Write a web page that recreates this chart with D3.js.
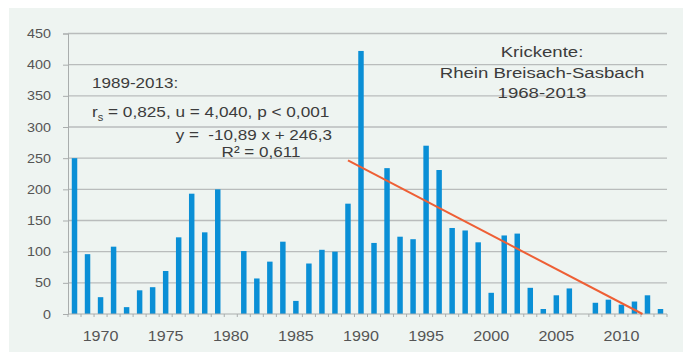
<!DOCTYPE html>
<html><head><meta charset="utf-8">
<script src="https://cdn.jsdelivr.net/npm/d3@7"></script>
<style>
html,body{margin:0;padding:0;background:#fff;}
text{font-family:"Liberation Sans",Arial,sans-serif;white-space:pre;}
</style></head>
<body>
<svg id="c" width="688" height="353"></svg>
<script>
const years = d3.range(1968, 2014);
const values = [250,96,27,108,11,38,43,69,123,193,131,200,0,101,57,84,116,21,81,103,100,177,422,114,234,124,120,270,231,138,134,115,34,126,129,42,8,30,41,0,18,23,15,20,30,8];
const yTicks = [0,50,100,150,200,250,300,350,400,450];
const xTickLabels = [1970,1975,1980,1985,1990,1995,2000,2005,2010];
const trend = {slope:-10.89, intercept:246.3, startYear:1989};
const titleLines = ["Krickente:", "Rhein Breisach-Sasbach", "1968-2013"];

const svg = d3.select("#c");
const SX = 1.15;
svg.append("rect").attr("x",9).attr("y",8).attr("width",674).attr("height",344).attr("fill","#eef4f1");

const x = d3.scaleBand().domain(years).range([68,667]).paddingInner(0.58).paddingOuter(0.29);
const y = d3.scaleLinear().domain([0,450]).range([314,33.5]);

// gridlines
svg.append("g").selectAll("line").data(yTicks.filter(d=>d>0)).join("line")
  .attr("x1",68).attr("x2",667).attr("y1",d=>y(d)).attr("y2",d=>y(d))
  .attr("stroke","#b9bcbc").attr("stroke-width",1.3);

// y axis
const yAxis = svg.append("g").attr("transform","translate(68,0)")
  .call(d3.axisLeft(y).tickValues(yTicks).tickSize(5).tickPadding(0).tickFormat(()=>""));
yAxis.select(".domain").attr("stroke","#a9adad");
yAxis.selectAll(".tick line").attr("stroke","#a9adad");
svg.append("g").selectAll("text").data(yTicks).join("text")
  .attr("transform",d=>`translate(51,${y(d)+4.5}) scale(${SX},1)`)
  .attr("text-anchor","end").attr("font-size",12.5).attr("fill","#555").text(d=>d);

// bars
svg.append("g").selectAll("rect").data(years.map((yr,i)=>({yr,v:values[i]}))).join("rect")
  .attr("x",d=>x(d.yr)).attr("width",x.bandwidth())
  .attr("y",d=>y(d.v)).attr("height",d=>y(0)-y(d.v))
  .attr("fill","#0a8fd6");

// x axis
const step = x.step();
const bounds = years.map(yr=>x(yr)-x.paddingInner()*step/2);
bounds.push(667);
svg.append("line").attr("x1",68).attr("x2",667).attr("y1",y(0)).attr("y2",y(0)).attr("stroke","#a9adad").attr("stroke-width",1.2);
svg.append("g").selectAll("line").data(bounds).join("line")
  .attr("x1",d=>d).attr("x2",d=>d).attr("y1",y(0)).attr("y2",y(0)+3)
  .attr("stroke","#a9adad");
svg.append("g").selectAll("text").data(xTickLabels).join("text")
  .attr("transform",d=>`translate(${x(d)+x.bandwidth()/2},${y(0)+27}) scale(${SX},1)`)
  .attr("text-anchor","middle").attr("font-size",14).attr("fill","#555").text(d=>d);

// trend line
const cx = yr => x(1968) + x.bandwidth()/2 + (yr-1968)*step;
const endYear = trend.startYear + (-trend.intercept/trend.slope);
svg.append("line")
  .attr("x1",cx(trend.startYear)).attr("y1",y(trend.intercept))
  .attr("x2",cx(endYear)).attr("y2",y(0))
  .attr("stroke","#ee5f35").attr("stroke-width",2);

// annotations
const ann = svg.append("g").attr("fill","#3c3c3c");
ann.append("text").attr("transform",`translate(92,88) scale(${SX-0.05},1)`).attr("font-size",15.5).text("1989-2013:");
const t2 = ann.append("text").attr("transform",`translate(92,117) scale(${SX-0.04},1)`).attr("font-size",15.5);
t2.append("tspan").text("r");
t2.append("tspan").attr("font-size",10).attr("dy",4).text("s");
t2.append("tspan").attr("dy",-4).text(" = 0,825, u = 4,040, p < 0,001");
ann.append("text").attr("transform",`translate(332,140) scale(${SX-0.05},1)`).attr("text-anchor","end").attr("font-size",15.5).text("y =  -10,89 x + 246,3");
ann.append("text").attr("transform",`translate(261,157) scale(${SX-0.05},1)`).attr("text-anchor","middle").attr("font-size",15.5).text("R² = 0,611");

svg.append("g").attr("fill","#3c3c3c").selectAll("text").data(titleLines).join("text")
  .attr("transform",(d,i)=>`translate(542,${57+i*20.5}) scale(${SX+0.05},1)`)
  .attr("text-anchor","middle").attr("font-size",15.5).text(d=>d);
</script>
</body></html>
